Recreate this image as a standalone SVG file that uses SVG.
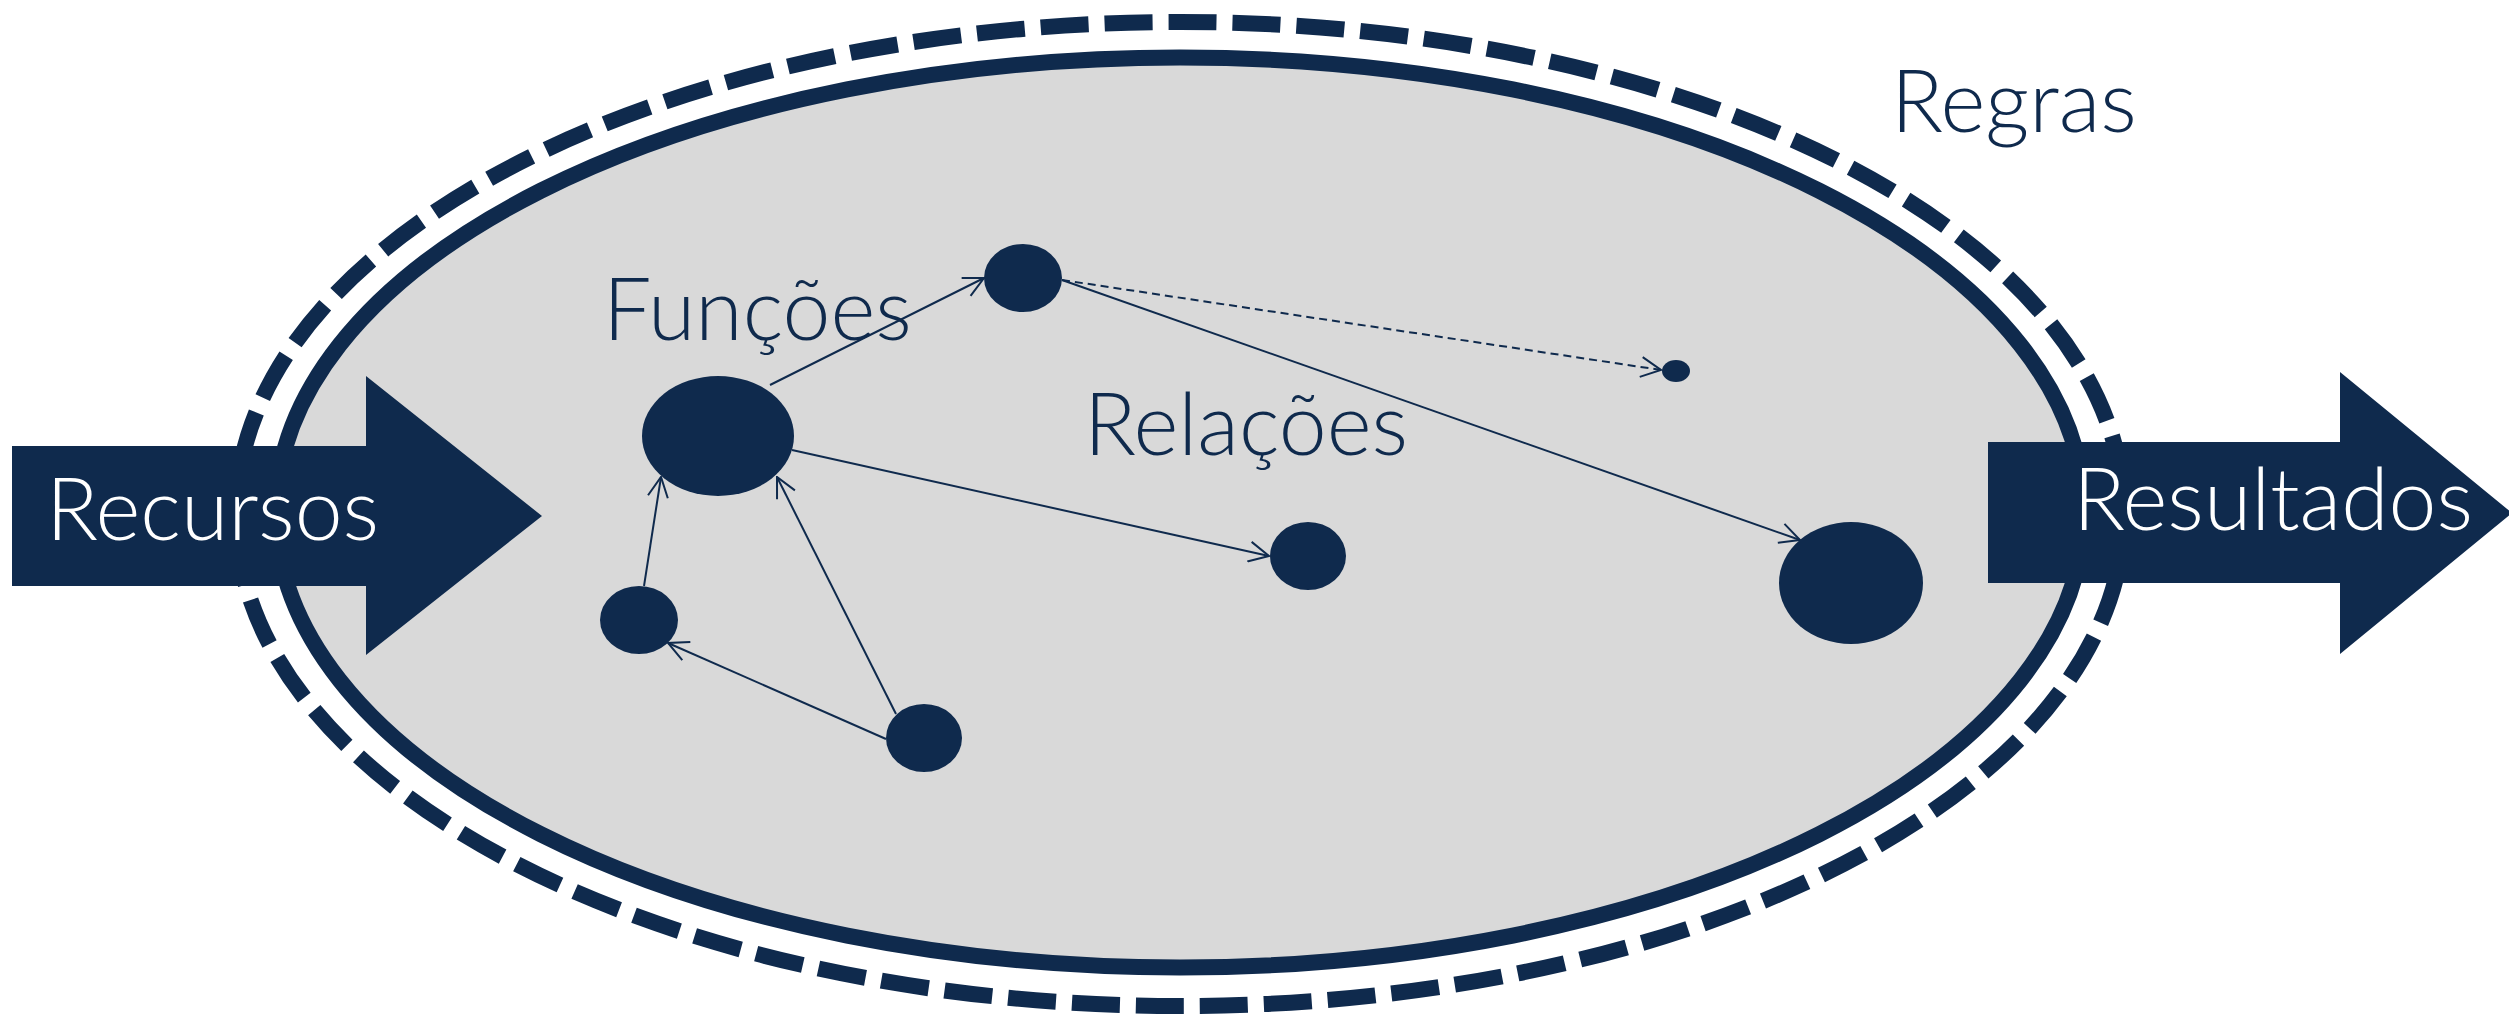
<svg xmlns="http://www.w3.org/2000/svg" width="2509" height="1014" viewBox="0 0 2509 1014">
  <defs>
    <style>
      .navy { fill: #0F2A4D; }
      .label { font-family: Lato, "Open Sans", "Liberation Sans", sans-serif; font-weight: 300; font-size: 86px; }
      .dark { fill: #0F2A4D; }
      .light { fill: #FFFFFF; }
      .link { stroke: #0F2A4D; stroke-width: 2; fill: none; marker-end: url(#open); }
      .dashed { stroke-dasharray: 8 5; }
    </style>
    <marker id="open" viewBox="0 0 22 22" markerWidth="22" markerHeight="22" refX="21" refY="11" markerUnits="userSpaceOnUse" orient="auto">
      <path d="M1,1 L21,11 L1,21" fill="none" stroke="#0F2A4D" stroke-width="2"/>
    </marker>
  </defs>
  <rect x="0" y="0" width="2509" height="1014" fill="#FFFFFF"/>

  <g id="rules">
    <ellipse cx="1180" cy="514" rx="944" ry="492" fill="none" stroke="#0F2A4D" stroke-width="16" stroke-dasharray="48 16"/>
    <text class="label dark" x="1891" y="132">Regras</text>
  </g>

  <g id="system">
    <ellipse cx="1180" cy="512.5" rx="904" ry="455" fill="#D9D9D9" stroke="#0F2A4D" stroke-width="16"/>
  </g>

  <g id="labels">
    <text class="label dark" x="603" y="340">Funções</text>
    <text class="label dark" x="1084" y="455">Relações</text>
  </g>

  <g id="connectors">
    <line class="link" x1="770" y1="385" x2="984" y2="278"/>
    <line class="link dashed" x1="1062" y1="280" x2="1661" y2="370"/>
    <line class="link" x1="1062" y1="280" x2="1800" y2="540"/>
    <line class="link" x1="792" y1="450" x2="1269" y2="556"/>
    <line class="link" x1="644" y1="586" x2="661" y2="477"/>
    <line class="link" x1="896" y1="714" x2="777" y2="477"/>
    <line class="link" x1="886" y1="739" x2="668" y2="643"/>
  </g>

  <g id="node-main"><ellipse class="navy" cx="718" cy="436" rx="76" ry="60"/></g>
  <g id="node-top"><ellipse class="navy" cx="1023" cy="278" rx="39" ry="34"/></g>
  <g id="node-small"><ellipse class="navy" cx="1676" cy="371" rx="14" ry="11"/></g>
  <g id="node-middle"><ellipse class="navy" cx="1308" cy="556" rx="38" ry="34"/></g>
  <g id="node-output"><ellipse class="navy" cx="1851" cy="583" rx="72" ry="61"/></g>
  <g id="node-left"><ellipse class="navy" cx="639" cy="620" rx="39" ry="34"/></g>
  <g id="node-bottom"><ellipse class="navy" cx="924" cy="738" rx="38" ry="34"/></g>

  <g id="recursos">
    <polygon class="navy" points="12,446 366,446 366,376 542,516 366,655 366,586 12,586"/>
    <text class="label light" x="46" y="540">Recursos</text>
  </g>

  <g id="resultados">
    <polygon class="navy" points="1988,442 2340,442 2340,372 2512,513 2340,654 2340,583 1988,583"/>
    <text class="label light" x="2073" y="530">Resultados</text>
  </g>
</svg>
